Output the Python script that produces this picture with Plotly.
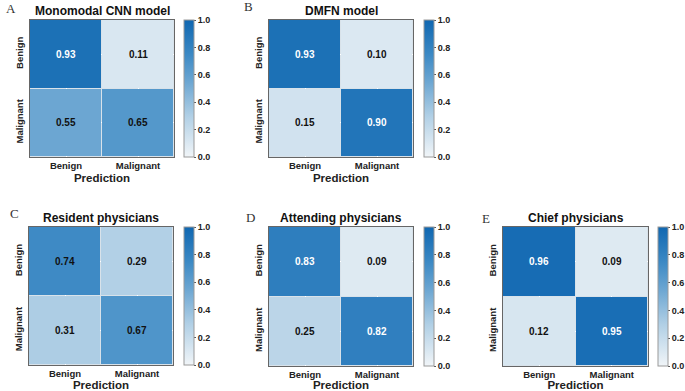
import plotly.graph_objects as go

W, H = 685, 391

labels = ["Benign", "Malignant"]
titles = ["Monomodal CNN model", "DMFN model", "Resident physicians",
          "Attending physicians", "Chief physicians"]
letters = ["A", "B", "C", "D", "E"]
vals_A = [[0.93, 0.11], [0.55, 0.65]]
vals_B = [[0.93, 0.10], [0.15, 0.90]]
vals_C = [[0.74, 0.29], [0.31, 0.67]]
vals_D = [[0.83, 0.09], [0.25, 0.82]]
vals_E = [[0.96, 0.09], [0.12, 0.95]]
all_vals = [vals_A, vals_B, vals_C, vals_D, vals_E]
cbar_ticks = [0.0, 0.2, 0.4, 0.6, 0.8, 1.0]

# pixel boxes: (left, right, top, bottom) of heatmap, colorbar left
boxes = [(30, 174, 20, 157, 184), (269, 413, 20, 157, 424),
         (29, 173, 227, 365, 184), (269, 413, 227, 366, 424),
         (503, 648, 227, 366, 658)]
letter_pos = [(4, 8), (242, 7), (8, 213), (244, 217), (480, 218)]

cscale = [[0.0, "rgb(241,245,248)"], [0.3, "rgb(176,207,229)"],
          [0.55, "rgb(108,166,210)"], [0.75, "rgb(60,137,196)"],
          [1.0, "rgb(16,103,177)"]]

FONT = "Liberation Sans, Arial, sans-serif"
fig = go.Figure()
annotations = []
for i, (vals, (l, r, t, b, cbx)) in enumerate(zip(all_vals, boxes)):
    k = "" if i == 0 else str(i + 1)
    fig.add_trace(go.Heatmap(
        z=vals, x=labels, y=labels, xaxis="x" + k, yaxis="y" + k,
        zmin=0, zmax=1, colorscale=cscale, xgap=1, ygap=1,
        hoverinfo="skip",
        colorbar=dict(x=cbx / W, xanchor="left", xpad=0, ypad=0,
                      y=1 - t / H, yanchor="top", len=(b - t) / H,
                      lenmode="fraction", thickness=10, thicknessmode="pixels",
                      outlinewidth=1, outlinecolor="#9a9a9a",
                      tickvals=cbar_ticks, ticktext=[f"{v:.1f}" for v in cbar_ticks],
                      ticks="outside", ticklen=2, tickcolor="#555",
                      tickfont=dict(size=9, family=FONT, color="#222", weight="bold")),
    ))
    fig.update_layout(**{
        "xaxis" + k: dict(domain=[l / W, r / W], anchor="y" + k,
                          showline=True, mirror=True, linecolor="#666", linewidth=1,
                          ticks="", tickfont=dict(size=9.5, family=FONT, color="#222", weight="bold"),
                          title=dict(text="Prediction", standoff=3,
                                     font=dict(size=11.5, family=FONT, color="#222", weight="bold")),
                          fixedrange=True, automargin=False),
        "yaxis" + k: dict(domain=[1 - b / H, 1 - t / H], anchor="x" + k,
                          autorange="reversed",
                          showline=True, mirror=True, linecolor="#666", linewidth=1,
                          ticks="", tickangle=-90, ticklabelstandoff=2,
                          tickfont=dict(size=9.5, family=FONT, color="#222", weight="bold"),
                          fixedrange=True, automargin=False),
    })
    for ri, row in enumerate(vals):
        for ci, v in enumerate(row):
            annotations.append(dict(
                x=labels[ci], y=labels[ri], xref="x" + k, yref="y" + k,
                text=f"{v:.2f}", showarrow=False,
                font=dict(size=10, family=FONT, weight="bold",
                          color="white" if v >= 0.8 else "#111")))
    annotations.append(dict(
        x=(l + r) / 2 / W, y=1 - (t - 9) / H, xref="paper", yref="paper",
        text=titles[i], showarrow=False, xanchor="center", yanchor="middle",
        font=dict(size=12, family=FONT, color="#111", weight="bold")))
    lx, ly = letter_pos[i]
    annotations.append(dict(
        x=lx / W, y=1 - ly / H, xref="paper", yref="paper", xanchor="left",
        yanchor="middle", text=letters[i], showarrow=False,
        font=dict(size=13, family="Liberation Serif, Times New Roman, serif", color="#333")))

fig.update_layout(width=W, height=H,
                  margin=dict(l=0, r=0, t=0, b=0, autoexpand=False),
                  paper_bgcolor="white", plot_bgcolor="#d8e2ea",
                  annotations=annotations, showlegend=False)
fig.write_html("out.html", config={"displayModeBar": False},
               post_script="document.body.style.margin='0px';document.body.style.overflow='hidden';")
